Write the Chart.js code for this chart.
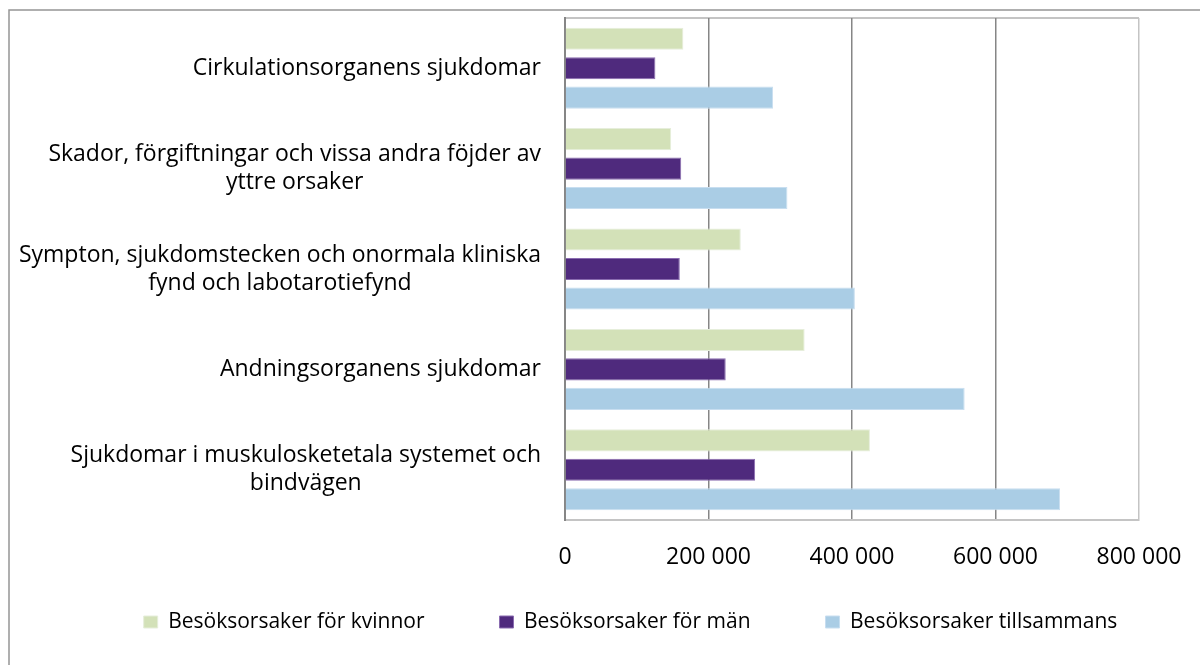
<!DOCTYPE html>
<html>
<head>
<meta charset="utf-8">
<script src="https://cdn.jsdelivr.net/npm/chart.js@4.4.0/dist/chart.umd.min.js"></script>
<style>
  html, body { margin: 0; padding: 0; background: #ffffff; }
  #wrap { width: 1200px; height: 665px; position: relative; }
</style>
</head>
<body>
<div id="wrap"><canvas id="c" width="1200" height="665"></canvas></div>
<script>
// ---- data ----
const categories = [
  ['Cirkulationsorganens sjukdomar'],
  ['Skador, förgiftningar och vissa andra föjder av', 'yttre orsaker'],
  ['Sympton, sjukdomstecken och onormala kliniska', 'fynd och labotarotiefynd'],
  ['Andningsorganens sjukdomar'],
  ['Sjukdomar i muskulosketetala systemet och', 'bindvägen']
];
const seriesNames = ['Besöksorsaker för kvinnor', 'Besöksorsaker för män', 'Besöksorsaker tillsammans'];
const kvinnor = [165000, 148000, 245000, 334000, 425000];
const man = [126000, 162000, 160000, 224000, 265000];
const tillsammans = [290000, 310000, 404000, 557000, 690000];
const xTickLabels = ['0', '200 000', '400 000', '600 000', '800 000'];

const FONT = "'Open Sans', 'DejaVu Sans', sans-serif";
const LEG_SIZE = 21;
const AX_SIZE = 23;

const borderPlugin = {
  id: 'frame',
  beforeDraw(chart) {
    const ctx = chart.ctx;
    ctx.save();
    ctx.strokeStyle = '#959595';
    ctx.lineWidth = 1.5;
    ctx.strokeRect(9, 10, 1400, 1400);
    const a = chart.chartArea;
    ctx.strokeStyle = '#c4c4c4';
    ctx.lineWidth = 2;
    ctx.beginPath();
    ctx.moveTo(a.left, a.top);
    ctx.lineTo(a.right, a.top);
    ctx.stroke();
    ctx.restore();
  }
};

const yLabelPlugin = {
  id: 'ylabels',
  afterDraw(chart) {
    const ctx = chart.ctx;
    const ys = chart.scales.y;
    const rightEdge = 541;
    const lh = 28;
    ctx.save();
    ctx.font = AX_SIZE + 'px ' + FONT;
    ctx.fillStyle = '#000000';
    ctx.textAlign = 'center';
    ctx.textBaseline = 'middle';
    categories.forEach((lines, i) => {
      const cy = ys.getPixelForValue(i);
      const maxW = Math.max(...lines.map(l => ctx.measureText(l).width));
      const cx = rightEdge - maxW / 2;
      const y0 = cy - (lines.length - 1) * lh / 2;
      lines.forEach((l, k) => ctx.fillText(l, cx, y0 + k * lh));
    });
    ctx.restore();
  }
};

new Chart(document.getElementById('c'), {
  type: 'bar',
  data: {
    labels: categories,
    datasets: [
      { label: seriesNames[0], data: kvinnor, backgroundColor: '#d3e1b8', borderColor: '#e6eedb', borderWidth: 1 },
      { label: seriesNames[1], data: man, backgroundColor: '#4f2a7d', borderColor: '#8a6cb0', borderWidth: 1 },
      { label: seriesNames[2], data: tillsammans, backgroundColor: '#aacde5', borderColor: '#c8def0', borderWidth: 1 }
    ]
  },
  options: {
    indexAxis: 'y',
    responsive: false,
    animation: false,
    devicePixelRatio: 1,
    categoryPercentage: 0.88,
    barPercentage: 0.75,
    layout: { padding: { top: 18, left: 61, right: 0, bottom: 22.5 } },
    plugins: {
      tooltip: { enabled: false },
      legend: {
        position: 'bottom',
        labels: {
          font: { family: FONT, size: LEG_SIZE },
          color: '#000000',
          boxWidth: 14,
          boxHeight: 12,
          padding: 75
        }
      }
    },
    scales: {
      x: {
        min: 0, max: 800000,
        z: 1,
        afterFit(s) { s.height = 16.5; },
        ticks: {
          mirror: true,
          stepSize: 200000,
          padding: -50.8,
          color: '#000000',
          font: { family: FONT, size: AX_SIZE },
          callback: (v, i) => xTickLabels[i]
        },
        grid: {
          drawTicks: false,
          color: (c) => c.index === xTickLabels.length - 1 ? '#c4c4c4' : '#868686',
          lineWidth: 1.5
        },
        border: { display: true, color: '#c4c4c4', width: 2 }
      },
      y: {
        afterFit(s) { s.width = 504; },
        ticks: { display: false },
        grid: { display: false, drawTicks: false },
        border: { display: true, color: '#868686', width: 2 }
      },
      y2: {
        type: 'category',
        position: 'right',
        afterFit(s) { s.width = 61; },
        ticks: { display: false },
        grid: { display: false, drawTicks: false },
        border: { display: false }
      }
    }
  },
  plugins: [borderPlugin, yLabelPlugin]
});
</script>
</body>
</html>
